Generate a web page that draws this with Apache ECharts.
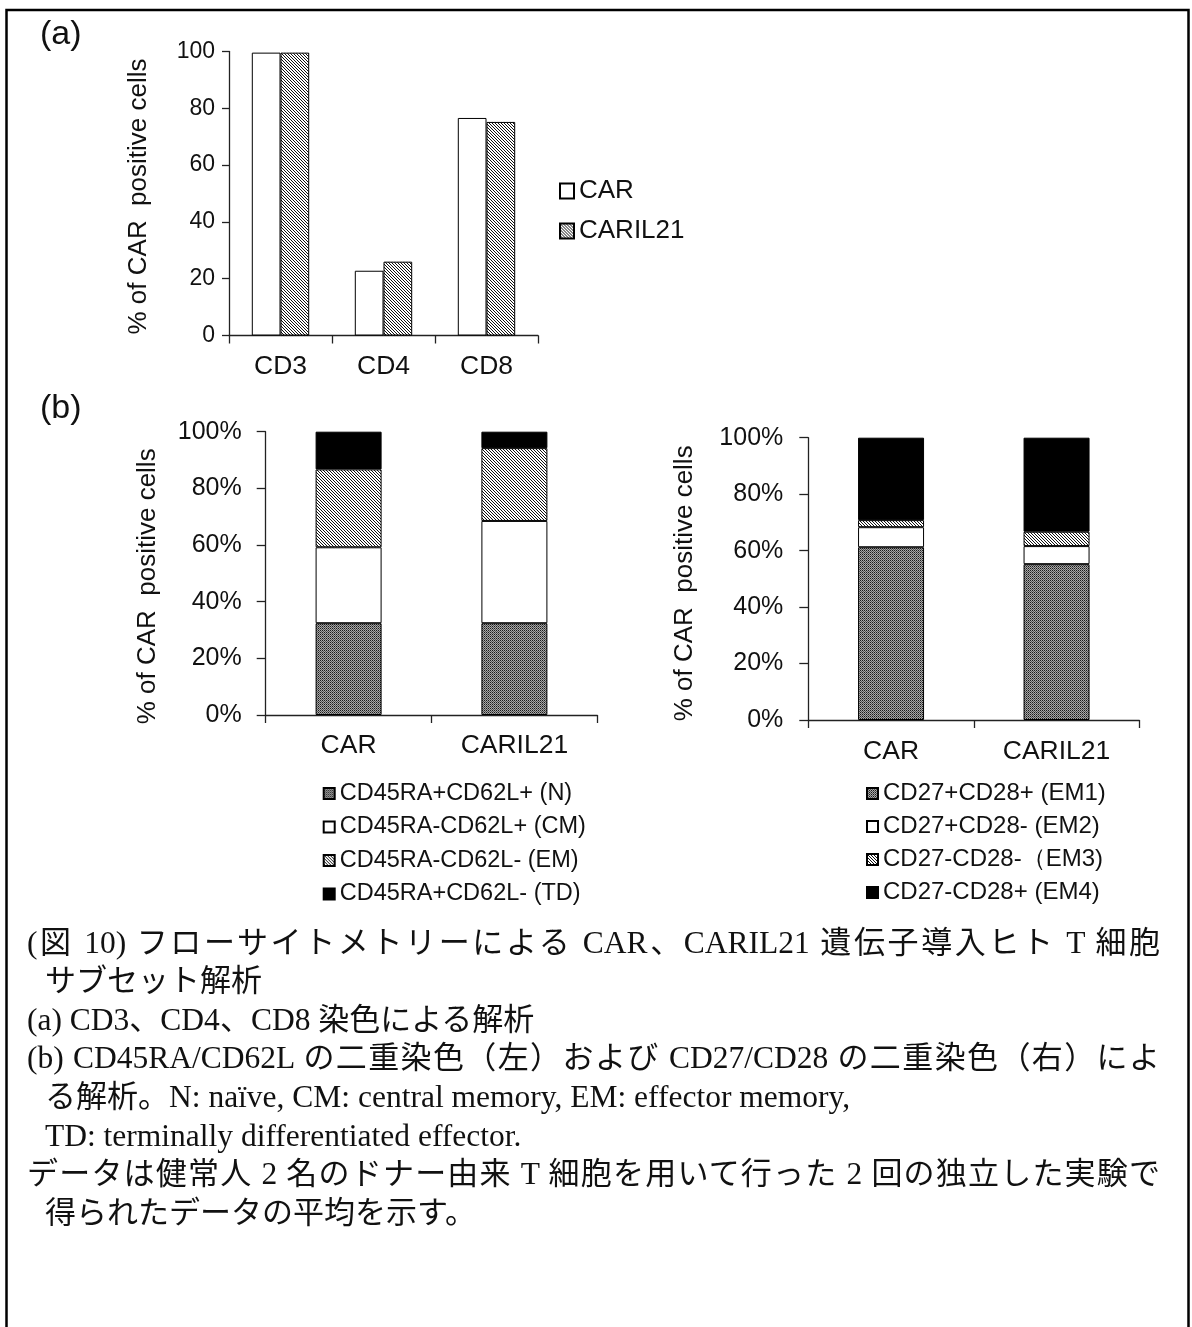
<!DOCTYPE html>
<html>
<head>
<meta charset="utf-8">
<script src="https://cdn.jsdelivr.net/npm/echarts@6/dist/echarts.min.js"></script>
<style>
  html, body { margin: 0; padding: 0; background: #fff; }
  #wrap { position: relative; width: 1192px; height: 1327px; }
  #chart { position: absolute; left: 0; top: 0; width: 1192px; height: 1327px; }
  #caption {
    position: absolute; left: 27px; top: 923.7px; width: 1133px;
    font-family: 'Liberation Serif', 'Noto Sans CJK JP', serif;
    font-size: 31px; line-height: 38.6px; color: #111;
  }
  #caption .lat { font-size: 31.5px; }
  #caption .just { text-align: justify; text-align-last: justify; text-justify: inter-character; }
  #caption .indent { padding-left: 18px; }
</style>
</head>
<body>
<div id="wrap">
  <div id="chart"></div>
  <div id="caption"></div>
</div>
<script>
// (a) CD3 / CD4 / CD8 share of CAR-positive cells
const catsA = ['CD3', 'CD4', 'CD8'];
const carA = [99.6, 22.8, 76.6];
const caril21A = [99.6, 26.0, 75.2];

// (b) memory subsets, stacked to 100%
const catsB = ['CAR', 'CARIL21'];
const memNames = ['CD45RA+CD62L+ (N)', 'CD45RA-CD62L+ (CM)', 'CD45RA-CD62L- (EM)', 'CD45RA+CD62L- (TD)'];
const memN  = [32.4, 32.4];
const memCM = [26.8, 36.1];
const memEM = [27.5, 25.7];
const memTD = [13.3, 5.8];

const emNames = ['CD27+CD28+ (EM1)', 'CD27+CD28- (EM2)', 'CD27-CD28-（EM3)', 'CD27-CD28+ (EM4)'];
const em1 = [61.2, 55.2];
const em2 = [7.1, 6.4];
const em3 = [2.5, 5.1];
const em4 = [29.2, 33.3];

// caption: [text, style] — 'just' lines fill the full width, 'indent' lines continue a paragraph
const captionLines = [
  ['(図 10) フローサイトメトリーによる CAR、CARIL21 遺伝子導入ヒト T 細胞', 'just'],
  ['サブセット解析', 'indent'],
  ['(a) CD3、CD4、CD8 染色による解析', ''],
  ['(b) CD45RA/CD62L の二重染色（左）および CD27/CD28 の二重染色（右）によ', 'just'],
  ['る解析。N: naïve, CM: central memory, EM: effector memory,', 'indent'],
  ['TD: terminally differentiated effector.', 'indent'],
  ['データは健常人 2 名のドナー由来 T 細胞を用いて行った 2 回の独立した実験で', 'just'],
  ['得られたデータの平均を示す。', 'indent']
];

// Latin runs get a slightly larger size than the kana/kanji runs
const CJK_RUN = /([\u3000-\u30ff\u4e00-\u9fff\uff00-\uffef]+)/;
const capBox = document.getElementById('caption');
captionLines.forEach(([t, cls]) => {
  const d = document.createElement('div');
  if (cls) d.className = cls;
  t.split(CJK_RUN).forEach((part, k) => {
    if (!part) return;
    if (k % 2 === 1) {
      d.appendChild(document.createTextNode(part));
    } else {
      const s = document.createElement('span');
      s.className = 'lat';
      s.textContent = part;
      d.appendChild(s);
    }
  });
  capBox.appendChild(d);
});

// --- fill patterns ---
function makePattern(size, draw) {
  const c = document.createElement('canvas');
  c.width = size; c.height = size;
  const ctx = c.getContext('2d');
  draw(ctx, size);
  return { image: c, repeat: 'repeat' };
}
const dither = makePattern(2, (ctx) => {
  ctx.fillStyle = '#a8a8a8'; ctx.fillRect(0, 0, 2, 2);
  ctx.fillStyle = '#1a1a1a'; ctx.fillRect(0, 0, 1, 1);
  ctx.fillStyle = '#555'; ctx.fillRect(1, 1, 1, 1);
});
const hatch = makePattern(3, (ctx, s) => {
  ctx.fillStyle = '#fff'; ctx.fillRect(0, 0, s, s);
  ctx.fillStyle = '#111';
  for (let i = 0; i < s; i++) ctx.fillRect(i, i, 1, 1);
});

const FONT = "'Liberation Sans', Arial, sans-serif";
const INK = '#111';
const AX = '#222';

function xAxisCfg(idx, data, margin) {
  return {
    type: 'category', gridIndex: idx, data: data,
    axisLine: { lineStyle: { color: AX, width: 1.3 } },
    axisTick: { show: true, length: 8, lineStyle: { color: AX, width: 1.3 } },
    axisLabel: { fontFamily: FONT, fontSize: 26.5, color: INK, margin: margin }
  };
}
function yAxisCfg(idx, fmt, fontSize, margin, tickLen, nameGap, namePad) {
  return {
    type: 'value', gridIndex: idx, min: 0, max: 100, interval: 20,
    splitLine: { show: false },
    axisLine: { show: true, lineStyle: { color: AX, width: 1.3 } },
    axisTick: { show: true, length: tickLen, lineStyle: { color: AX, width: 1.3 } },
    axisLabel: { fontFamily: FONT, fontSize: fontSize, color: INK, margin: margin, formatter: fmt },
    name: '% of CAR  positive cells', nameLocation: 'middle', nameGap: nameGap,
    nameTextStyle: { fontFamily: FONT, fontSize: 26, color: INK, padding: namePad }
  };
}

const border = { borderColor: '#000', borderWidth: 1 };

function stackSeries(names, fills, values, axisIdx, stackId) {
  return names.map((n, i) => ({
    name: n, type: 'bar', stack: stackId, xAxisIndex: axisIdx, yAxisIndex: axisIdx,
    barWidth: 66, data: values[i],
    itemStyle: Object.assign({ color: fills[i] }, border)
  }));
}

const fills = [dither, '#fff', hatch, '#000'];

function legendCfg(names, left, top, size, fontSize, gap) {
  return {
    data: names, orient: 'vertical', left: left, top: top, padding: 0,
    icon: 'rect', itemWidth: size[0], itemHeight: size[1], itemGap: gap,
    textStyle: { fontFamily: FONT, fontSize: fontSize, color: INK, lineHeight: fontSize }
  };
}

const option = {
  animation: false,
  backgroundColor: 'transparent',
  grid: [
    { left: 229, top: 51.5, width: 309, height: 284 },
    { left: 265.7, top: 431.7, width: 331.6, height: 283.3 },
    { left: 808.3, top: 437.7, width: 331, height: 282.3 }
  ],
  xAxis: [xAxisCfg(0, catsA, 18), xAxisCfg(1, catsB, 17), xAxisCfg(2, catsB, 18)],
  yAxis: [
    yAxisCfg(0, '{value}', 23, 14, 7, 77, [0, 6, 0, 0]),
    yAxisCfg(1, '{value}%', 25, 24, 9, 104.7, [0, 26, 0, 0]),
    yAxisCfg(2, '{value}%', 25, 25, 9, 110.3, [0, 9, 0, 0])
  ],
  legend: [
    legendCfg(['CAR', 'CARIL21'], 559, 178, [14, 15], 26, 14),
    legendCfg(memNames, 322.7, 781.5, [11, 11], 23.5, 9.5),
    legendCfg(emNames, 866, 781.5, [11, 11], 24, 9)
  ],
  series: [
    { name: 'CAR', type: 'bar', xAxisIndex: 0, yAxisIndex: 0, barWidth: 28.7, barGap: '0%',
      data: carA, itemStyle: Object.assign({ color: '#fff' }, border) },
    { name: 'CARIL21', type: 'bar', xAxisIndex: 0, yAxisIndex: 0, barWidth: 28.7, barGap: '0%',
      data: caril21A, itemStyle: Object.assign({ color: hatch }, border) }
  ].concat(
    stackSeries(memNames, fills, [memN, memCM, memEM, memTD], 1, 'mem'),
    stackSeries(emNames, fills, [em1, em2, em3, em4], 2, 'em')
  ),
  graphic: [
    { type: 'rect', shape: { x: 6.5, y: 10, width: 1182, height: 1340 },
      style: { fill: 'none', stroke: '#000', lineWidth: 2.5 }, silent: true },
    { type: 'text', left: 40, top: 18, style: { text: '(a)', font: '34px ' + FONT, fill: INK } },
    { type: 'text', left: 40, top: 392, style: { text: '(b)', font: '34px ' + FONT, fill: INK } }
  ]
};

const chart = echarts.init(document.getElementById('chart'), null, { renderer: 'canvas' });
chart.setOption(option);
</script>
</body>
</html>
